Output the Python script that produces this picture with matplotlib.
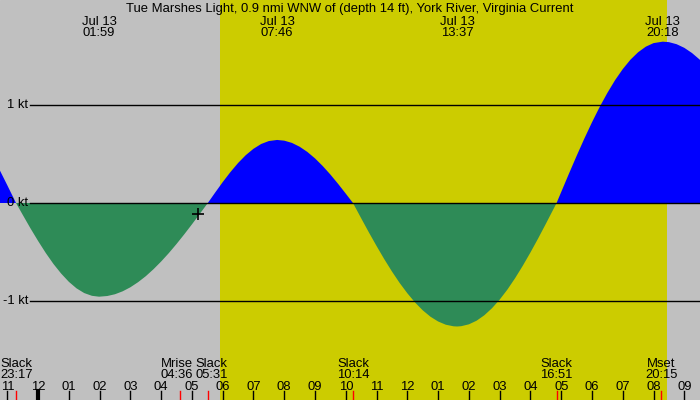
import matplotlib
matplotlib.use('Agg')
import matplotlib.pyplot as plt

plt.rcParams['font.family'] = ['Liberation Sans', 'DejaVu Sans']

title = 'Tue Marshes Light, 0.9 nmi WNW of (depth 14 ft), York River, Virginia Current'

# hours counted from Jul 12 00:00, current speed in knots (+ flood, - ebb)
hours = [22.5, 22.75, 23.0, 23.25, 23.283,
         23.5, 23.75, 24.0, 24.25, 24.5, 24.75, 25.0, 25.25, 25.5, 25.75, 25.983,
         26.25, 26.5, 26.75, 27.0, 27.25, 27.5, 27.75, 28.0, 28.25, 28.5, 28.75,
         29.0, 29.25, 29.5, 29.517,
         29.75, 30.0, 30.25, 30.5, 30.75, 31.0, 31.25, 31.5, 31.767,
         32.0, 32.25, 32.5, 32.75, 33.0, 33.25, 33.5, 33.75, 34.0, 34.233,
         34.5, 34.75, 35.0, 35.25, 35.5, 35.75, 36.0, 36.25, 36.5, 36.75, 37.0,
         37.25, 37.5, 37.617,
         37.75, 38.0, 38.25, 38.5, 38.75, 39.0, 39.25, 39.5, 39.75, 40.0, 40.25,
         40.5, 40.75, 40.85,
         41.0, 41.25, 41.5, 41.75, 42.0, 42.25, 42.5, 42.75, 43.0, 43.25, 43.5,
         43.75, 44.0, 44.3,
         44.5, 44.75, 45.0, 45.25, 45.5, 45.75]
speed = [0.491, 0.338, 0.181, 0.021, 0.0,
         -0.120, -0.257, -0.387, -0.510, -0.622, -0.720, -0.804, -0.871, -0.919, -0.947, -0.956,
         -0.949, -0.931, -0.901, -0.860, -0.808, -0.747, -0.676, -0.597, -0.511, -0.418, -0.320,
         -0.218, -0.113, -0.007, 0.0,
         0.104, 0.213, 0.315, 0.408, 0.488, 0.553, 0.602, 0.632, 0.643,
         0.636, 0.613, 0.574, 0.521, 0.455, 0.377, 0.290, 0.195, 0.095, 0.0,
         -0.156, -0.300, -0.439, -0.573, -0.699, -0.816, -0.921, -1.015, -1.095, -1.160, -1.209,
         -1.242, -1.258, -1.26,
         -1.257, -1.238, -1.201, -1.146, -1.074, -0.986, -0.884, -0.768, -0.641, -0.505, -0.362,
         -0.213, -0.061, 0.0,
         0.112, 0.298, 0.480, 0.656, 0.823, 0.980, 1.123, 1.253, 1.366, 1.462, 1.538,
         1.595, 1.631, 1.646,
         1.641, 1.620, 1.583, 1.530, 1.463, 1.381]

# max current times shown along the top
peak_hours = [25.983, 31.767, 37.617, 44.3]
peak_labels = ['01:59', '07:46', '13:37', '20:18']

# slack / moon events along the bottom
event_names = ['Slack', 'Mrise', 'Slack', 'Slack', 'Slack', 'Mset']
event_hours = [23.283, 28.6, 29.517, 34.233, 40.85, 44.25]
event_times = ['23:17', '04:36', '05:31', '10:14', '16:51', '20:15']

sunrise, sunset = 29.91, 44.44
tick_hours = list(range(23, 46))
level_lines = [1, 0, -1]
mark_hour, mark_speed = 29.2, -0.11

W, H = 700, 400
FS = 9.4
fig = plt.figure(figsize=(7, 4), dpi=100)
ax = fig.add_axes([0, 0, 1, 1])
ax.set_xlim(22.763, 45.51)
ax.set_ylim(-2.01, 2.071)
ax.axis('off')
ax.add_patch(plt.Rectangle((0, 0), 1, 1, transform=ax.transAxes, color='#C0C0C0', zorder=0))

# daylight
ax.axvspan(sunrise, sunset, color='#CCCC00', zorder=1, lw=0)

ax.fill_between(hours, speed, 0, where=[s >= 0 for s in speed], interpolate=True,
                color='#0000FF', lw=0, zorder=2)
ax.fill_between(hours, speed, 0, where=[s <= 0 for s in speed], interpolate=True,
                color='#2E8B57', lw=0, zorder=2)

for lv in level_lines:
    ax.axhline(lv, xmin=30 / W, xmax=1, color='black', lw=1, zorder=3)
    ax.text(28 / W, lv, '%d kt' % lv, transform=ax.get_yaxis_transform(),
            ha='right', va='center', fontsize=FS, zorder=4)

ax.plot([mark_hour], [mark_speed], marker='+', color='black', ms=9, mew=1.2, zorder=4)

xt = ax.get_xaxis_transform()
ax.text(0.5, 1 - 12 / H, title, transform=ax.transAxes, ha='center', va='baseline', fontsize=FS)
for h, lab in zip(peak_hours, peak_labels):
    ax.text(h, 1 - 25 / H, 'Jul 13', transform=xt, ha='center', va='baseline', fontsize=FS)
    ax.text(h, 1 - 36 / H, lab, transform=xt, ha='center', va='baseline', fontsize=FS)

# nudges so neighbouring labels don't collide (like the original)
label_shift = [0, -0.09, 0.13, 0, 0, 0]
for i, (name, h, t) in enumerate(zip(event_names, event_hours, event_times)):
    ha = 'center'
    x = h + label_shift[i]
    if i == 0:
        x, ha = ax.get_xlim()[0], 'left'
    ax.text(x, 1 - 367 / H, name, transform=xt, ha=ha, va='baseline', fontsize=FS)
    ax.text(x, 1 - 378 / H, t, transform=xt, ha=ha, va='baseline', fontsize=FS)
    ax.axvline(h, ymin=0, ymax=9 / H, color='red', lw=1, zorder=4)

for h in tick_hours:
    hh = h % 12
    if hh == 0:
        hh = 12
    ax.text(h, 1 - 390 / H, '%02d' % hh, transform=xt, ha='center', va='baseline', fontsize=FS)
    ax.axvline(h, ymin=0, ymax=9 / H, color='black', lw=3 if h == 24 else 1, zorder=4)

fig.savefig('out.png', dpi=100)
